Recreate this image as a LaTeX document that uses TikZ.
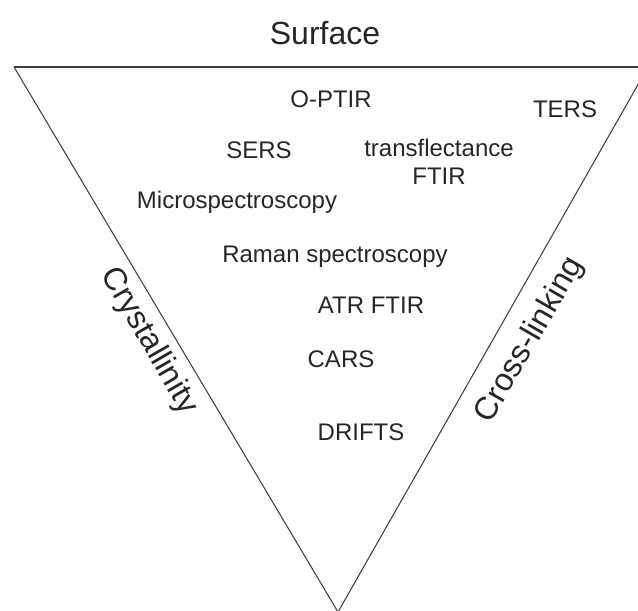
\documentclass[tikz,border=0pt]{standalone}
\usepackage{fontspec}
\setmainfont{Liberation Sans}
\begin{document}
\begin{tikzpicture}[x=0.75pt, y=-0.75pt, line width=0.8pt]
  \tikzset{
    method/.style={font=\fontsize{18}{21}\selectfont, inner sep=0pt, text=black!85},
    property/.style={font=\fontsize{24}{28}\selectfont, inner sep=0pt, text=black!85}
  }
  \useasboundingbox (0,0) rectangle (638,610);
  \clip (0,0) rectangle (638,610);
  % 삼각형
  \draw[black!75] (14,67) -- (648,67);
  \draw[black!75] (14,67) -- (338,612) -- (648,67);
  % 세 변의 성질
  \node[property, anchor=base] (surface) at (325,45) {Surface};
  \node[property, rotate=-60] (crystal) at (149,341) {Crystallinity};
  \node[property, rotate=60] (crosslink) at (530,340) {Cross-linking};
  % 분광법
  \node[method, anchor=base] (optir) at (331,107) {O-PTIR};
  \node[method, anchor=base] (ters) at (565,117) {TERS};
  \node[method, anchor=base] (sers) at (259,158) {SERS};
  \node[method, align=center] (transfl) at (439,162) {transflectance\\FTIR};
  \node[method, anchor=base] (micro) at (237,208) {Microspectroscopy};
  \node[method, anchor=base] (raman) at (335,262) {Raman spectroscopy};
  \node[method, anchor=base] (atr) at (371,313) {ATR FTIR};
  \node[method, anchor=base] (cars) at (341,367) {CARS};
  \node[method, anchor=base] (drifts) at (361,440) {DRIFTS};
\end{tikzpicture}
\end{document}
